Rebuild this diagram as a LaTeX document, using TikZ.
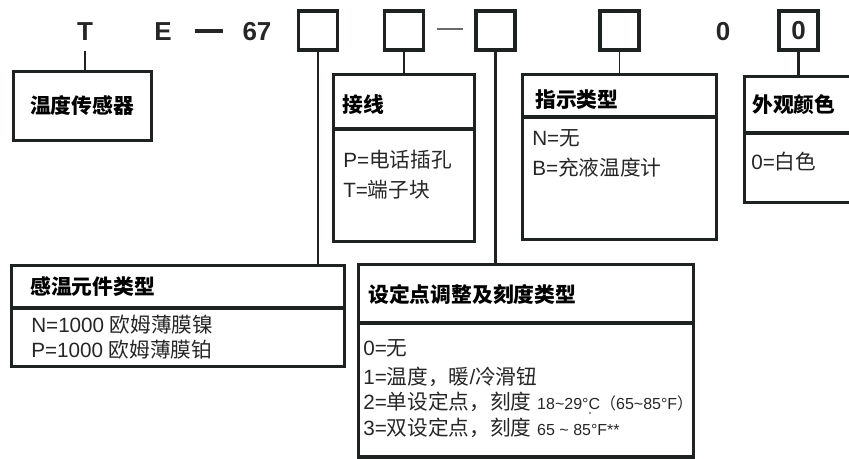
\documentclass[tikz,border=0pt]{standalone}
\usepackage{fontspec}
\setmainfont{Liberation Sans}
\newfontfamily\cjk{Noto Sans CJK SC}
\newcommand\zhtext[1]{{\cjk #1}}
\definecolor{ln}{HTML}{1E2321}
\definecolor{tx}{HTML}{262626}
\definecolor{thin}{HTML}{6A6A6A}
\begin{document}
\begin{tikzpicture}[x=0.75pt,y=-0.75pt,
  boxline/.style={draw=ln, line width=2.4pt},
  codebox/.style={draw=ln, line width=2.4pt, minimum width=29.25pt, minimum height=29.25pt, inner sep=0pt, font=\fontsize{19.5}{22}\selectfont\bfseries, text=tx},
  bigbox/.style={draw=ln, line width=2.4pt, inner sep=0pt},
  head/.style={anchor=west, inner sep=0pt, font=\fontsize{15.6}{18}\selectfont\cjk\bfseries, text=black},
  body/.style={anchor=west, inner sep=0pt, font=\fontsize{15.5}{18}\selectfont, text=tx},
  hdr/.style={inner sep=0pt, font=\fontsize{19.5}{22}\selectfont\bfseries, text=tx},
  link/.style={draw=ln, line width=2.2pt},
  thinlink/.style={draw=ln, line width=1.3pt}
]
\useasboundingbox (0,0) rectangle (849,459);

% header codes
\node[hdr] (hT) at (85,32) {T};
\node[hdr] (hE) at (163,32) {E};
\node[hdr] (h67) at (257,32) {67};
\node[hdr] (h0) at (723,32) {0};
\coordinate (d1a) at (195,31);
\coordinate (d1b) at (223,31);
\draw[draw=tx, line width=2.6pt] (d1a) -- (d1b);
\node[codebox] (b1) at (318,30.5) {};
\node[codebox] (b2) at (404,30.5) {};
\node[codebox] (b3) at (495.5,30.5) {};
\node[codebox] (b4) at (619.5,30.5) {};
\node[codebox] (b5) at (798.5,30.5) {0};
\coordinate (d2a) at (437,29);
\coordinate (d2b) at (463,29);
\draw[draw=thin, line width=1.2pt] (d2a) -- (d2b);

% boxes
\node[bigbox, minimum width=138*0.75pt, minimum height=69*0.75pt] (sensor) at (82.5,106) {};
\node[bigbox, minimum width=141*0.75pt, minimum height=167*0.75pt] (conn) at (404,158) {};
\node[bigbox, minimum width=194*0.75pt, minimum height=165*0.75pt] (ind) at (619.5,157) {};
\node[bigbox, minimum width=125.5*0.75pt, minimum height=126*0.75pt] (ext) at (807.25,139.5) {};
\node[bigbox, minimum width=333*0.75pt, minimum height=101*0.75pt] (elem) at (178,316) {};
\node[bigbox, minimum width=335*0.75pt, minimum height=192.5*0.75pt] (setp) at (526,360.75) {};

% dividers
\draw[boxline] (conn.west |- 0,129) -- (conn.east |- 0,129);
\draw[boxline] (ind.west |- 0,117) -- (ind.east |- 0,117);
\draw[boxline] (ext.west |- 0,133) -- (ext.east |- 0,133);
\draw[boxline] (elem.west |- 0,308) -- (elem.east |- 0,308);
\draw[boxline] (setp.west |- 0,323) -- (setp.east |- 0,323);

% connectors
\draw[link] ([yshift=-7pt]hT.south) -- (hT.south |- sensor.north);
\draw[link] (b1.south) -- (b1.south |- elem.north);
\draw[link] (b2.south) -- (b2.south |- conn.north);
\draw[link] (b3.south) -- (b3.south |- setp.north);
\draw[thinlink] (b4.south) -- (b4.south |- ind.north);
\draw[link] (b5.south) -- (b5.south |- ext.north);

% titles
\node[inner sep=0pt, font=\fontsize{15.6}{18}\selectfont\cjk\bfseries] (tsensor) at (82,106) {温度传感器};
\node[head] (tconn) at (342,105) {接线};
\node[head] (tind) at (535,100) {指示类型};
\node[head] (text) at (752,105) {外观颜色};
\node[head] (telem) at (30,287) {感温元件类型};
\node[head] (tsetp) at (368,295) {设定点调整及刻度类型};

% bodies
\node[body] (c1) at (343,160) {P=\zhtext{电话插孔}};
\node[body] (c2) at (343,190) {T=\zhtext{端子块}};
\node[body] (i1) at (532,138) {N=\zhtext{无}};
\node[body] (i2) at (532,168) {B=\zhtext{充液温度计}};
\node[body] (e1) at (751,162) {0=\zhtext{白色}};
\node[body] (m1) at (31,325) {N=1000 \zhtext{欧姆薄膜镍}};
\node[body] (m2) at (31,350) {P=1000 \zhtext{欧姆薄膜铂}};
\node[body] (s0) at (363,348) {0=\zhtext{无}};
\node[body] (s1) at (363,377) {1=\zhtext{温度，暖}/\zhtext{冷滑钮}};
\node[body] (s2) at (363,402) {2=\zhtext{单设定点，刻度} {\fontsize{12}{14}\selectfont 18\textasciitilde29°C\zhtext{（}65\textasciitilde85°F\zhtext{）}}};
\node[body] (s3) at (363,428) {3=\zhtext{双设定点，刻度} {\fontsize{12}{14}\selectfont 65 \textasciitilde{} 85°F**}};
\fill[tx] (590,413) circle (0.8);
\end{tikzpicture}
\end{document}
